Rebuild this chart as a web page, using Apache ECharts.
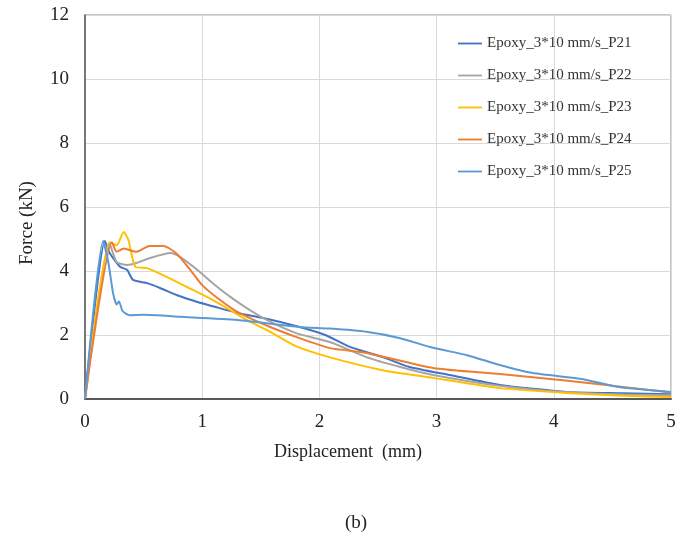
<!DOCTYPE html>
<html><head><meta charset="utf-8">
<script src="https://cdn.jsdelivr.net/npm/echarts@6/dist/echarts.min.js"></script>
<style>html,body{margin:0;padding:0;background:#fff}#c{width:688px;height:538px}</style>
</head><body><div id="c"></div>
<script>
const seriesNames = ['Epoxy_3*10 mm/s_P21','Epoxy_3*10 mm/s_P22','Epoxy_3*10 mm/s_P23','Epoxy_3*10 mm/s_P24','Epoxy_3*10 mm/s_P25'];
const xTicks = [0,1,2,3,4,5];
const yTicks = [0,2,4,6,8,10,12];

const p21X = [0,0.17,0.21,0.3,0.36,0.41,0.53,0.64,0.78,0.96,1.09,1.3,1.52,1.8,2.05,2.26,2.54,2.77,3.11,3.54,4.11,4.6,5.0];
const p21Y = [0,4.94,4.56,4.13,4.03,3.72,3.62,3.47,3.25,3.03,2.9,2.69,2.53,2.28,2.0,1.63,1.31,1.0,0.75,0.44,0.22,0.18,0.15];

const p22X = [0,0.21,0.27,0.36,0.44,0.55,0.73,0.81,0.96,1.09,1.24,1.38,1.55,1.8,2.09,2.4,2.69,2.97,3.54,4.1,4.6,5.0];
const p22Y = [0,4.85,4.28,4.19,4.25,4.4,4.56,4.44,4.03,3.62,3.19,2.84,2.47,2.06,1.78,1.31,1.0,0.75,0.41,0.22,0.14,0.12];

const p23X = [0,0.21,0.27,0.33,0.37,0.43,0.53,0.7,0.87,1.04,1.21,1.38,1.55,1.8,2.09,2.54,2.97,3.54,4.11,4.6,5.0];
const p23Y = [0,4.9,4.8,5.22,4.97,4.13,4.09,3.81,3.5,3.19,2.84,2.47,2.16,1.65,1.3,0.9,0.66,0.34,0.19,0.1,0.06];

const p24X = [0,0.23,0.27,0.33,0.44,0.55,0.67,0.78,0.9,1.0,1.15,1.3,1.44,1.58,1.8,2.09,2.4,2.97,3.54,4.1,4.68,5.0];
const p24Y = [0,4.9,4.6,4.7,4.6,4.78,4.78,4.55,4.03,3.56,3.1,2.72,2.47,2.25,1.94,1.59,1.44,0.97,0.78,0.58,0.34,0.2];

const p25X = [0,0.155,0.2,0.24,0.27,0.29,0.32,0.38,0.5,0.81,1.3,1.83,2.09,2.4,2.69,2.97,3.26,3.54,3.82,4.25,4.54,5.0];
const p25Y = [0,4.94,4.25,3.3,2.95,3.05,2.75,2.62,2.63,2.57,2.47,2.25,2.2,2.1,1.9,1.6,1.37,1.06,0.81,0.62,0.38,0.22];

const colors = ['#4472C4','#A5A5A5','#FFC000','#ED7D31','#5B9BD5'];
const allX = [p21X,p22X,p23X,p24X,p25X];
const allY = [p21Y,p22Y,p23Y,p24Y,p25Y];

const chart = echarts.init(document.getElementById('c'));
const font = 'Liberation Serif';
chart.setOption({
  animation:false,
  backgroundColor:'#fff',
  title:{text:'(b)',left:345,top:514,textStyle:{fontFamily:font,fontSize:19,fontWeight:'normal',color:'#222'},padding:0},
  grid:{left:85,right:17,top:15,bottom:139,show:true,borderColor:'#8c8c8c',borderWidth:1},
  legend:{orient:'vertical',left:453,top:31,itemGap:17,itemWidth:24,itemHeight:14,
    textStyle:{fontFamily:font,fontSize:15,color:'#333'},
    data:seriesNames.map(n=>({name:n,icon:'path://M0,6L26,6L26,8L0,8Z'}))},
  xAxis:{type:'value',min:xTicks[0],max:xTicks[xTicks.length-1],interval:1,
    name:'Displacement  (mm)',nameLocation:'middle',nameGap:44,
    nameTextStyle:{fontFamily:font,fontSize:18,color:'#222',padding:[0,60,0,0]},
    axisLine:{lineStyle:{color:'#595959',width:2}},axisTick:{show:false},
    axisLabel:{fontFamily:font,fontSize:19,color:'#222',margin:14},
    splitLine:{lineStyle:{color:'#d9d9d9'}}},
  yAxis:{type:'value',min:yTicks[0],max:yTicks[yTicks.length-1],interval:2,
    name:'Force (kN)',nameLocation:'middle',nameGap:48,
    nameTextStyle:{fontFamily:font,fontSize:19,color:'#222',padding:[0,32,0,0]},
    axisLine:{show:true,lineStyle:{color:'#595959',width:1.5}},axisTick:{show:false},
    axisLabel:{fontFamily:font,fontSize:19,color:'#222',margin:16},
    splitLine:{lineStyle:{color:'#d9d9d9'}}},
  series:seriesNames.map((n,i)=>({
    name:n,type:'line',showSymbol:false,symbol:'none',smooth:0.2,
    lineStyle:{color:colors[i],width:2},itemStyle:{color:colors[i]},
    data:allX[i].map((x,j)=>[x,allY[i][j]])
  }))
});
</script></body></html>
